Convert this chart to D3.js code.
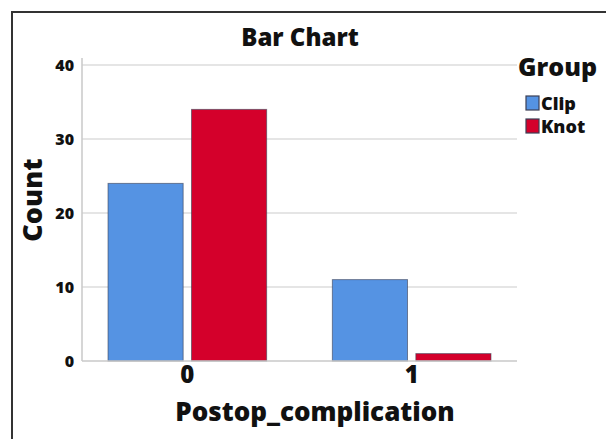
<!DOCTYPE html>
<html><head><meta charset="utf-8">
<script src="https://cdn.jsdelivr.net/npm/d3@7"></script>
<style>body{margin:0;background:#fff;}svg{display:block;}text{font-family:"Open Sans",sans-serif;font-weight:800;fill:#111;}</style>
</head><body>
<script>
const categories = ["0", "1"];
const groups = ["Clip", "Knot"];
const clipValues = [24, 11];
const knotValues = [34, 1];
const yTicks = [0, 10, 20, 30, 40];
const colors = ["#5593e3", "#d4002b"];

const data = categories.map((c, i) => ({cat: c, vals: [clipValues[i], knotValues[i]]}));

const W = 606, H = 439;
const svg = d3.select("body").append("svg").attr("width", W).attr("height", H);

// frame
svg.append("path").attr("d", `M12,${H} L12,12 L${W},12`).attr("fill", "none").attr("stroke", "#333").attr("stroke-width", 2);

const x0 = d3.scaleBand().domain(categories).range([82, 517]).paddingInner(0.293).paddingOuter(0.116);
const x1 = d3.scaleBand().domain(groups).range([0, x0.bandwidth()]).paddingInner(0.1);
const y = d3.scaleLinear().domain([0, 40]).range([361, 65]);

// gridlines
svg.append("g").selectAll("line").data(yTicks.filter(t => t > 0)).join("line")
  .attr("x1", 82).attr("x2", 517).attr("y1", d => y(d)).attr("y2", d => y(d))
  .attr("stroke", "#dcdcdc").attr("stroke-width", 1.5);

// y axis
const yAxis = d3.axisLeft(y).tickValues(yTicks).tickSize(0).tickPadding(8);
const gy = svg.append("g").attr("transform", "translate(82,0)").call(yAxis);
gy.select(".domain").attr("stroke", "#c8c8c8").attr("stroke-width", 1.5).attr("d", "M0,58V361");
gy.selectAll("text").style("font-size", "16px").style("font-family", "'Open Sans',sans-serif").style("font-weight", 800).attr("fill", "#111");

// bars
const gBars = svg.append("g").selectAll("g").data(data).join("g")
  .attr("transform", d => `translate(${x0(d.cat)},0)`);
gBars.selectAll("rect").data(d => d.vals.map((v, j) => ({g: groups[j], v, j}))).join("rect")
  .attr("x", d => x1(d.g)).attr("width", x1.bandwidth())
  .attr("y", d => y(d.v)).attr("height", d => y(0) - y(d.v))
  .attr("fill", d => colors[d.j]).attr("stroke", "#3b3f55").attr("stroke-opacity", 0.6).attr("stroke-width", 1);

// x baseline
svg.append("line").attr("x1", 82).attr("x2", 517).attr("y1", y(0)).attr("y2", y(0)).attr("stroke", "#c8c8c8").attr("stroke-width", 1.5);

// x axis
const xAxis = d3.axisBottom(x0).tickSize(0).tickPadding(5);
const gx = svg.append("g").attr("transform", `translate(0,${y(0)})`).call(xAxis);
gx.select(".domain").remove();
gx.selectAll("text").style("font-size", "24px").style("font-family", "'Open Sans',sans-serif").style("font-weight", 800).attr("fill", "#111");

// titles
svg.append("text").attr("x", 300).attr("y", 46).attr("text-anchor", "middle").style("font-size", "24px").text("Bar Chart");
svg.append("text").attr("x", 315).attr("y", 421).attr("text-anchor", "middle").style("font-size", "26px").text("Postop_complication");
svg.append("text").attr("transform", "translate(42,200) rotate(-90)").attr("text-anchor", "middle").style("font-size", "27px").text("Count");

// legend
svg.append("text").attr("x", 518).attr("y", 76).style("font-size", "25px").text("Group");
const leg = svg.append("g").selectAll("g").data(groups).join("g")
  .attr("transform", (d, i) => `translate(526,${96 + i * 23})`);
leg.append("rect").attr("width", 13).attr("height", 14).attr("fill", (d, i) => colors[i]).attr("stroke", "#3b3f55").attr("stroke-width", 1.2);
leg.append("text").attr("x", 15).attr("y", 14).style("font-size", "18px").text(d => d);
</script>
</body></html>
